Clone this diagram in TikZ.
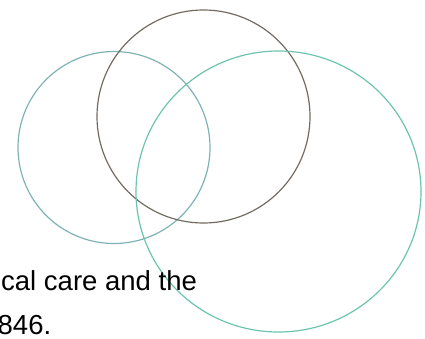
\documentclass[tikz,border=0pt]{standalone}
\usepackage{fontspec}
\setmainfont{Liberation Sans}
\usetikzlibrary{positioning, shapes.geometric}

\definecolor{tealgray}{HTML}{7FB3B3}
\definecolor{darktaupe}{HTML}{736B62}
\definecolor{seagreen}{HTML}{6CC4AE}

\begin{document}
\begin{tikzpicture}[
  x=1pt, y=-1pt,
  ring/.style={draw, circle, line width=1.2pt, inner sep=0pt},
  caption/.style={anchor=base west, inner sep=0pt, font=\fontsize{27.5}{44}\selectfont}
]

% fixed frame
\useasboundingbox (0,0) rectangle (425,338);

% =========================
% Circles
% =========================
\node[ring, tealgray, minimum size=192pt] (leftring) at (114,147.5) {};
\node[ring, darktaupe, minimum size=213pt] (topring) at (203.5,116.5) {};
\node[ring, seagreen, ellipse, minimum width=285pt, minimum height=281pt] (rightring) at (278.5,191.5) {};

% =========================
% Text (cut at the left edge)
% =========================
\node[caption] (line1) at (1,290) {cal care and the};
\node[caption] (line2) at (-2.5,334) {846.};

\end{tikzpicture}
\end{document}
